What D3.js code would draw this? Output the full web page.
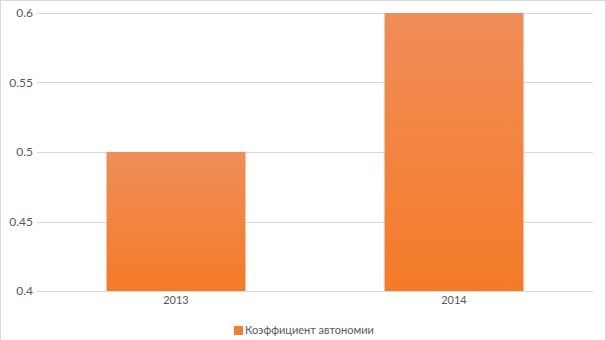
<!DOCTYPE html>
<html>
<head>
<meta charset="utf-8">
<title>chart</title>
<script src="https://d3js.org/d3.v7.min.js"></script>
<style>
  body { margin: 0; background: #fff; }
  text { font-family: Lato, "Open Sans", sans-serif; }
</style>
</head>
<body>
<script>
    var years = ["2013", "2014"];
    var values = [0.5, 0.6];
    var ticks = [0.4, 0.45, 0.5, 0.55, 0.6];
    var seriesName = "Коэффициент автономии";

    var w = 605, h = 340;
    var m = {top: 13, right: 12, bottom: 49, left: 37};

    var svg = d3.select("body").append("svg")
        .attr("width", w).attr("height", h);

    // outer frame (only top/left edges fall inside the view)
    svg.append("rect")
        .attr("x", 0.5).attr("y", 0.5)
        .attr("width", w + 4).attr("height", h + 4)
        .attr("fill", "#fff").attr("stroke", "#d9d9d9");

    var defs = svg.append("defs");
    var grad = defs.append("linearGradient")
        .attr("id", "barGrad")
        .attr("x1", 0).attr("y1", 0).attr("x2", 0).attr("y2", 1);
    grad.append("stop").attr("offset", "0%").attr("stop-color", "#f08d58");
    grad.append("stop").attr("offset", "100%").attr("stop-color", "#f47b28");

    var x = d3.scaleBand().domain(years)
        .range([m.left, w - m.right]).paddingInner(0.5).paddingOuter(0.25);
    var y = d3.scaleLinear().domain([0.4, 0.6]).range([h - m.bottom, m.top]);

    // gridlines
    svg.append("g").selectAll("line").data(ticks).enter().append("line")
        .attr("x1", m.left).attr("x2", w - m.right)
        .attr("y1", function(d) { return Math.round(y(d)) + 0.5; })
        .attr("y2", function(d) { return Math.round(y(d)) + 0.5; })
        .attr("stroke", "#d9d9d9").attr("stroke-width", 1);

    // bars
    svg.append("g").selectAll("rect").data(values).enter().append("rect")
        .attr("x", function(d, i) { return x(years[i]); })
        .attr("y", function(d) { return y(d); })
        .attr("width", x.bandwidth())
        .attr("height", function(d) { return y(0.4) - y(d); })
        .attr("fill", "url(#barGrad)");

    // y labels
    var yAxis = d3.axisLeft(y).tickValues(ticks).tickSize(0).tickPadding(4)
        .tickFormat(function(d) { return String(+d.toFixed(2)); });
    var gy = svg.append("g").attr("transform", "translate(" + m.left + ",0)").call(yAxis);
    gy.select(".domain").remove();
    gy.selectAll("text").attr("fill", "#595959")
        .style("font-family", "Lato, sans-serif").style("font-size", "12px");

    // x labels
    var xAxis = d3.axisBottom(x).tickSize(0).tickPadding(5);
    var gx = svg.append("g").attr("transform", "translate(0," + (h - m.bottom) + ")").call(xAxis);
    gx.select(".domain").remove();
    gx.selectAll("text").attr("fill", "#595959")
        .style("font-family", "Lato, sans-serif").style("font-size", "11px");

    // legend
    var lg = svg.append("g").attr("transform", "translate(234,326)");
    lg.append("rect").attr("width", 9).attr("height", 9).attr("fill", "#f47d2f");
    lg.append("text").attr("x", 11).attr("y", 4.5).attr("dy", "0.35em")
        .attr("fill", "#595959").style("font-size", "11px").text(seriesName);
</script>
</body>
</html>
